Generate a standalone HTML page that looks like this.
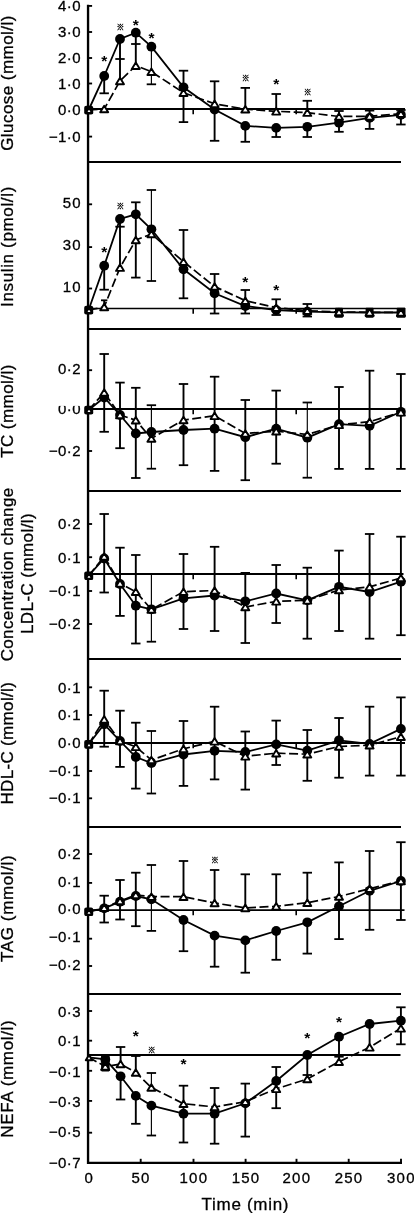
<!DOCTYPE html>
<html><head><meta charset="utf-8"><title>Figure</title>
<style>
html,body{margin:0;padding:0;background:#fff;}
body{width:414px;height:1213px;overflow:hidden;}
svg{display:block;will-change:transform;}
svg text{font-family:"Liberation Sans","Noto Sans CJK JP",sans-serif;fill:#000;}
.tk{font-size:15px;letter-spacing:0.4px;stroke:#000;stroke-width:0.3px;}
.ttl{font-size:17px;letter-spacing:0.45px;stroke:#000;stroke-width:0.3px;}
.st{font-size:15.5px;font-weight:bold;}
.sx{font-size:7.8px;font-weight:bold;stroke:#000;stroke-width:0.3px;}
</style></head><body>
<svg width="414" height="1213" viewBox="0 0 414 1213">
<rect width="414" height="1213" fill="#fff"/>
<g stroke="#000" stroke-width="2.0" fill="none">
<line x1="88" y1="161.9" x2="401" y2="161.9"/>
<line x1="88" y1="328.9" x2="401" y2="328.9"/>
<line x1="88" y1="491.0" x2="401" y2="491.0"/>
<line x1="88" y1="659.0" x2="401" y2="659.0"/>
<line x1="88" y1="826.9" x2="401" y2="826.9"/>
<line x1="88" y1="994.0" x2="401" y2="994.0"/>
<line x1="88" y1="1162.9" x2="402" y2="1162.9" stroke-width="2.1"/>
</g>
<g stroke="#000" fill="none">
<line x1="88" y1="108.9" x2="405" y2="108.9" stroke-width="2.0"/>
<line x1="193.2" y1="108.9" x2="193.2" y2="114.2" stroke-width="1.6"/>
<line x1="296.2" y1="108.9" x2="296.2" y2="114.2" stroke-width="1.6"/>
<line x1="88" y1="308.5" x2="405" y2="308.5" stroke-width="1.3"/>
<line x1="193.2" y1="308.5" x2="193.2" y2="313.8" stroke-width="1.6"/>
<line x1="296.2" y1="308.5" x2="296.2" y2="313.8" stroke-width="1.6"/>
<line x1="88" y1="409.0" x2="401" y2="409.0" stroke-width="2.0"/>
<line x1="193.2" y1="409.0" x2="193.2" y2="414.3" stroke-width="1.6"/>
<line x1="296.2" y1="409.0" x2="296.2" y2="414.3" stroke-width="1.6"/>
<line x1="88" y1="573.9" x2="403.5" y2="573.9" stroke-width="2.05"/>
<line x1="193.2" y1="573.9" x2="193.2" y2="579.2" stroke-width="1.6"/>
<line x1="296.2" y1="573.9" x2="296.2" y2="579.2" stroke-width="1.6"/>
<line x1="88" y1="743.0" x2="405" y2="743.0" stroke-width="1.95"/>
<line x1="193.2" y1="743.0" x2="193.2" y2="748.3" stroke-width="1.6"/>
<line x1="296.2" y1="743.0" x2="296.2" y2="748.3" stroke-width="1.6"/>
<line x1="88" y1="910.0" x2="404.5" y2="910.0" stroke-width="1.75"/>
<line x1="193.2" y1="910.0" x2="193.2" y2="915.3" stroke-width="1.6"/>
<line x1="296.2" y1="910.0" x2="296.2" y2="915.3" stroke-width="1.6"/>
<line x1="88" y1="1054.9" x2="400.5" y2="1054.9" stroke-width="2.05"/>
</g>
<line x1="88.05" y1="4.8" x2="88.05" y2="1163.9" stroke="#000" stroke-width="2.35"/>
<g stroke="#000" stroke-width="1.85">
<line x1="88" y1="5.9" x2="92.1" y2="5.9"/>
<line x1="88" y1="32" x2="92.1" y2="32"/>
<line x1="88" y1="58.0" x2="92.1" y2="58.0"/>
<line x1="88" y1="83.5" x2="92.1" y2="83.5"/>
<line x1="88" y1="109.3" x2="92.1" y2="109.3"/>
<line x1="88" y1="136.6" x2="92.1" y2="136.6"/>
<line x1="88" y1="204.3" x2="92.1" y2="204.3"/>
<line x1="88" y1="247.1" x2="92.1" y2="247.1"/>
<line x1="88" y1="288.5" x2="92.1" y2="288.5"/>
<line x1="88" y1="370.2" x2="92.1" y2="370.2"/>
<line x1="88" y1="409.3" x2="92.1" y2="409.3"/>
<line x1="88" y1="451" x2="92.1" y2="451"/>
<line x1="88" y1="524" x2="92.1" y2="524"/>
<line x1="88" y1="557.2" x2="92.1" y2="557.2"/>
<line x1="88" y1="591" x2="92.1" y2="591"/>
<line x1="88" y1="624" x2="92.1" y2="624"/>
<line x1="88" y1="687.3" x2="92.1" y2="687.3"/>
<line x1="88" y1="715" x2="92.1" y2="715"/>
<line x1="88" y1="743.3" x2="92.1" y2="743.3"/>
<line x1="88" y1="771" x2="92.1" y2="771"/>
<line x1="88" y1="798.3" x2="92.1" y2="798.3"/>
<line x1="88" y1="854" x2="92.1" y2="854"/>
<line x1="88" y1="882.9" x2="92.1" y2="882.9"/>
<line x1="88" y1="910" x2="92.1" y2="910"/>
<line x1="88" y1="938.7" x2="92.1" y2="938.7"/>
<line x1="88" y1="966.0" x2="92.1" y2="966.0"/>
<line x1="88" y1="1011" x2="92.1" y2="1011"/>
<line x1="88" y1="1040.7" x2="92.1" y2="1040.7"/>
<line x1="88" y1="1070.8" x2="92.1" y2="1070.8"/>
<line x1="88" y1="1100.9" x2="92.1" y2="1100.9"/>
<line x1="88" y1="1132.7" x2="92.1" y2="1132.7"/>
<line x1="140.7" y1="1163.9" x2="140.7" y2="1158.8" stroke-width="1.9"/>
<line x1="193.5" y1="1163.9" x2="193.5" y2="1158.8" stroke-width="1.9"/>
<line x1="245.6" y1="1163.9" x2="245.6" y2="1158.8" stroke-width="1.9"/>
<line x1="296.5" y1="1163.9" x2="296.5" y2="1158.8" stroke-width="1.9"/>
<line x1="348.7" y1="1163.9" x2="348.7" y2="1158.8" stroke-width="1.9"/>
<line x1="401.0" y1="1163.9" x2="401.0" y2="1158.8" stroke-width="1.9"/>
</g>
<g stroke="#000" fill="none">
<line x1="104.2" y1="76" x2="104.2" y2="93.3" stroke-width="1.9"/><line x1="99.5" y1="93.3" x2="108.9" y2="93.3" stroke-width="1.8"/>
<line x1="120.0" y1="39" x2="120.0" y2="81" stroke-width="1.9"/><line x1="115.3" y1="59" x2="124.7" y2="59" stroke-width="1.8"/>
<line x1="135.8" y1="32.7" x2="135.8" y2="66.7" stroke-width="1.9"/><line x1="131.1" y1="44" x2="140.5" y2="44" stroke-width="1.8"/>
<line x1="151.4" y1="46.7" x2="151.4" y2="84.3" stroke-width="1.15"/><line x1="146.7" y1="84.3" x2="156.1" y2="84.3" stroke-width="1.8"/>
<line x1="183.5" y1="70.7" x2="183.5" y2="122.1" stroke-width="1.9"/><line x1="178.8" y1="70.7" x2="188.2" y2="70.7" stroke-width="1.8"/><line x1="178.8" y1="122.1" x2="188.2" y2="122.1" stroke-width="1.8"/>
<line x1="214.6" y1="81.3" x2="214.6" y2="140.8" stroke-width="1.9"/><line x1="209.9" y1="81.3" x2="219.3" y2="81.3" stroke-width="1.8"/><line x1="209.9" y1="140.8" x2="219.3" y2="140.8" stroke-width="1.8"/>
<line x1="245.3" y1="87.9" x2="245.3" y2="109.2" stroke-width="1.9"/><line x1="245.3" y1="125.6" x2="245.3" y2="141.8" stroke-width="1.9"/><line x1="240.6" y1="87.9" x2="250.0" y2="87.9" stroke-width="1.8"/><line x1="240.6" y1="141.8" x2="250.0" y2="141.8" stroke-width="1.8"/>
<line x1="276.2" y1="94" x2="276.2" y2="111.3" stroke-width="1.9"/><line x1="276.2" y1="127.7" x2="276.2" y2="137" stroke-width="1.9"/><line x1="271.5" y1="94" x2="280.9" y2="94" stroke-width="1.8"/><line x1="271.5" y1="137" x2="280.9" y2="137" stroke-width="1.8"/>
<line x1="307.3" y1="100.8" x2="307.3" y2="112.6" stroke-width="1.9"/><line x1="307.3" y1="126.6" x2="307.3" y2="137" stroke-width="1.9"/><line x1="302.6" y1="100.8" x2="312.0" y2="100.8" stroke-width="1.8"/><line x1="302.6" y1="137" x2="312.0" y2="137" stroke-width="1.8"/>
<line x1="339.0" y1="111" x2="339.0" y2="131.8" stroke-width="1.9"/><line x1="334.3" y1="111" x2="343.7" y2="111" stroke-width="1.8"/><line x1="334.3" y1="131.8" x2="343.7" y2="131.8" stroke-width="1.8"/>
<line x1="369.6" y1="110.6" x2="369.6" y2="128.9" stroke-width="1.9"/><line x1="364.9" y1="110.6" x2="374.3" y2="110.6" stroke-width="1.8"/><line x1="364.9" y1="128.9" x2="374.3" y2="128.9" stroke-width="1.8"/>
<line x1="400.9" y1="110" x2="400.9" y2="124.5" stroke-width="1.9"/><line x1="396.2" y1="110" x2="405.6" y2="110" stroke-width="1.8"/><line x1="396.2" y1="124.5" x2="405.6" y2="124.5" stroke-width="1.8"/>
</g>
<polyline points="88.6,110 104.2,109 120.0,81 135.8,65.7 151.4,71.7 183.5,92.7 214.6,103.8 245.3,109.2 276.2,111.3 307.3,112.6 339.0,116.5 369.6,116.3 400.9,113.7" fill="none" stroke="#000" stroke-width="1.7" stroke-dasharray="9 3.5"/>
<polyline points="88.6,110 104.2,76 120.0,39 135.8,32.7 151.4,46.7 183.5,87.3 214.6,109.5 245.3,125.9 276.2,127.9 307.3,126.8 339.0,122.7 369.6,117.9 400.9,114.8" fill="none" stroke="#000" stroke-width="1.8"/>
<g fill="#000"><rect x="84.2" y="105.7" width="9.0" height="8.7" rx="2"/><circle cx="104.2" cy="76" r="4.9"/><circle cx="120.0" cy="39" r="4.9"/><circle cx="135.8" cy="32.7" r="4.9"/><circle cx="151.4" cy="46.7" r="4.9"/><circle cx="183.5" cy="87.3" r="4.9"/><circle cx="214.6" cy="109.5" r="4.9"/><circle cx="245.3" cy="125.9" r="4.9"/><circle cx="276.2" cy="127.9" r="4.9"/><circle cx="307.3" cy="126.8" r="4.9"/><circle cx="339.0" cy="122.7" r="4.9"/><circle cx="369.6" cy="117.9" r="4.9"/><circle cx="400.9" cy="114.8" r="4.9"/></g>
<g fill="#fff" stroke="#000" stroke-width="1.9" stroke-linejoin="round"><path d="M89.0 107.6L92.2 113.0H85.8Z" stroke-width="2.0"/><path d="M104.2 105.7L108.2 112.3H100.2Z"/><path d="M120.0 77.7L124.0 84.3H116.0Z"/><path d="M135.8 62.4L139.8 69.0H131.8Z"/><path d="M151.4 68.4L155.4 75.0H147.4Z"/><path d="M183.5 89.4L187.5 96.0H179.5Z"/><path d="M214.6 100.5L218.6 107.1H210.6Z"/><path d="M245.3 105.9L249.3 112.5H241.3Z"/><path d="M276.2 108.0L280.2 114.6H272.2Z"/><path d="M307.3 109.3L311.3 115.9H303.3Z"/><path d="M339.0 113.2L343.0 119.8H335.0Z"/><path d="M369.6 113.0L373.6 119.6H365.6Z"/><path d="M400.9 110.4L404.9 117.0H396.9Z"/></g>
<text class="st" x="104.2" y="65.8" text-anchor="middle">*</text><text class="sx" x="120.3" y="30.0" text-anchor="middle">※</text><text class="st" x="135.8" y="30.1" text-anchor="middle">*</text><text class="st" x="151.4" y="42.8" text-anchor="middle">*</text><text class="sx" x="245.6" y="80.9" text-anchor="middle">※</text><text class="st" x="276.2" y="89.1" text-anchor="middle">*</text><text class="sx" x="307.6" y="95.1" text-anchor="middle">※</text>
<g stroke="#000" fill="none">
<line x1="104.2" y1="265.7" x2="104.2" y2="289.7" stroke-width="1.9"/><line x1="99.5" y1="289.7" x2="108.9" y2="289.7" stroke-width="1.8"/>
<line x1="104.2" y1="300.3" x2="104.2" y2="305" stroke-width="1.9"/><line x1="101.0" y1="300.3" x2="107.4" y2="300.3" stroke-width="1.8"/>
<line x1="120.0" y1="219" x2="120.0" y2="267.3" stroke-width="1.9"/><line x1="115.3" y1="226.7" x2="124.7" y2="226.7" stroke-width="1.8"/>
<line x1="135.8" y1="202.3" x2="135.8" y2="277.6" stroke-width="1.9"/><line x1="131.1" y1="202.3" x2="140.5" y2="202.3" stroke-width="1.8"/><line x1="131.1" y1="277.6" x2="140.5" y2="277.6" stroke-width="1.8"/>
<line x1="151.4" y1="190" x2="151.4" y2="281" stroke-width="1.15"/><line x1="146.7" y1="190" x2="156.1" y2="190" stroke-width="1.8"/><line x1="146.7" y1="281" x2="156.1" y2="281" stroke-width="1.8"/>
<line x1="183.5" y1="230" x2="183.5" y2="298.3" stroke-width="1.9"/><line x1="178.8" y1="230" x2="188.2" y2="230" stroke-width="1.8"/><line x1="178.8" y1="298.3" x2="188.2" y2="298.3" stroke-width="1.8"/>
<line x1="214.6" y1="274" x2="214.6" y2="313.5" stroke-width="1.9"/><line x1="209.9" y1="274" x2="219.3" y2="274" stroke-width="1.8"/><line x1="209.9" y1="313.5" x2="219.3" y2="313.5" stroke-width="1.8"/>
<line x1="245.3" y1="290" x2="245.3" y2="313.5" stroke-width="1.9"/><line x1="240.6" y1="290" x2="250.0" y2="290" stroke-width="1.8"/><line x1="240.6" y1="313.5" x2="250.0" y2="313.5" stroke-width="1.8"/>
<line x1="276.2" y1="299.3" x2="276.2" y2="315" stroke-width="1.9"/><line x1="271.5" y1="299.3" x2="280.9" y2="299.3" stroke-width="1.8"/><line x1="271.5" y1="315" x2="280.9" y2="315" stroke-width="1.8"/>
<line x1="307.3" y1="304" x2="307.3" y2="316.5" stroke-width="1.9"/><line x1="302.6" y1="304" x2="312.0" y2="304" stroke-width="1.8"/><line x1="302.6" y1="316.5" x2="312.0" y2="316.5" stroke-width="1.8"/>
<line x1="339.0" y1="308" x2="339.0" y2="316" stroke-width="1.9"/><line x1="334.3" y1="316" x2="343.7" y2="316" stroke-width="1.8"/>
<line x1="369.6" y1="308" x2="369.6" y2="316" stroke-width="1.9"/><line x1="364.9" y1="316" x2="374.3" y2="316" stroke-width="1.8"/>
<line x1="400.9" y1="308" x2="400.9" y2="316" stroke-width="1.9"/><line x1="396.2" y1="316" x2="405.6" y2="316" stroke-width="1.8"/>
</g>
<polyline points="88.6,310 104.2,307 120.0,267.6 135.8,240 151.4,234 183.5,261.7 214.6,286.5 245.3,300.7 276.2,307.7 307.3,310.7 339.0,312 369.6,312.3 400.9,312.5" fill="none" stroke="#000" stroke-width="1.7" stroke-dasharray="9 3.5"/>
<polyline points="88.6,310 104.2,265.7 120.0,219 135.8,214.3 151.4,229.3 183.5,269.3 214.6,293.3 245.3,306 276.2,310 307.3,311.7 339.0,312.3 369.6,312.5 400.9,312.5" fill="none" stroke="#000" stroke-width="1.8"/>
<g fill="#000"><rect x="335.0" y="307.8" width="8.0" height="10.0" rx="0.8"/><rect x="365.6" y="307.8" width="8.0" height="10.0" rx="0.8"/><rect x="396.7" y="307.8" width="8.8" height="10.0" rx="0.8"/><rect x="84.2" y="305.7" width="9.0" height="8.7" rx="2"/><circle cx="104.2" cy="265.7" r="4.9"/><circle cx="120.0" cy="219" r="4.9"/><circle cx="135.8" cy="214.3" r="4.9"/><circle cx="151.4" cy="229.3" r="4.9"/><circle cx="183.5" cy="269.3" r="4.9"/><circle cx="214.6" cy="293.3" r="4.9"/><circle cx="245.3" cy="306" r="4.9"/><circle cx="276.2" cy="310" r="4.9"/><circle cx="307.3" cy="311.7" r="4.9"/></g>
<g fill="#fff" stroke="#000" stroke-width="1.9" stroke-linejoin="round"><path d="M89.0 307.6L92.2 313.0H85.8Z" stroke-width="2.0"/><path d="M104.2 303.7L108.2 310.3H100.2Z"/><path d="M120.0 264.3L124.0 270.9H116.0Z"/><path d="M135.8 236.7L139.8 243.3H131.8Z"/><path d="M151.4 230.7L155.4 237.3H147.4Z"/><path d="M183.5 258.4L187.5 265.0H179.5Z"/><path d="M214.6 283.2L218.6 289.8H210.6Z"/><path d="M245.3 297.4L249.3 304.0H241.3Z"/><path d="M276.2 304.4L280.2 311.0H272.2Z"/><path d="M307.3 307.4L311.3 314.0H303.3Z"/><path d="M339.0 308.7L343.0 315.3H335.0Z"/><path d="M369.6 309.0L373.6 315.6H365.6Z"/><path d="M400.9 309.2L404.9 315.8H396.9Z"/></g>
<text class="st" x="104.2" y="257.1" text-anchor="middle">*</text><text class="sx" x="120.3" y="208.8" text-anchor="middle">※</text><text class="st" x="245.3" y="287.1" text-anchor="middle">*</text><text class="st" x="276.2" y="294.8" text-anchor="middle">*</text>
<g stroke="#000" fill="none">
<line x1="104.2" y1="354" x2="104.2" y2="431.8" stroke-width="1.9"/><line x1="99.5" y1="354" x2="108.9" y2="354" stroke-width="1.8"/><line x1="99.5" y1="431.8" x2="108.9" y2="431.8" stroke-width="1.8"/>
<line x1="120.0" y1="382.6" x2="120.0" y2="448.2" stroke-width="1.9"/><line x1="115.3" y1="382.6" x2="124.7" y2="382.6" stroke-width="1.8"/><line x1="115.3" y1="448.2" x2="124.7" y2="448.2" stroke-width="1.8"/>
<line x1="135.8" y1="387.8" x2="135.8" y2="478" stroke-width="1.9"/><line x1="131.1" y1="387.8" x2="140.5" y2="387.8" stroke-width="1.8"/><line x1="131.1" y1="478" x2="140.5" y2="478" stroke-width="1.8"/>
<line x1="151.4" y1="405.2" x2="151.4" y2="468.7" stroke-width="1.15"/><line x1="146.7" y1="405.2" x2="156.1" y2="405.2" stroke-width="1.8"/><line x1="146.7" y1="468.7" x2="156.1" y2="468.7" stroke-width="1.8"/>
<line x1="183.5" y1="384" x2="183.5" y2="465.2" stroke-width="1.9"/><line x1="178.8" y1="384" x2="188.2" y2="384" stroke-width="1.8"/><line x1="178.8" y1="465.2" x2="188.2" y2="465.2" stroke-width="1.8"/>
<line x1="214.6" y1="376.7" x2="214.6" y2="470.9" stroke-width="1.9"/><line x1="209.9" y1="376.7" x2="219.3" y2="376.7" stroke-width="1.8"/><line x1="209.9" y1="470.9" x2="219.3" y2="470.9" stroke-width="1.8"/>
<line x1="245.3" y1="400" x2="245.3" y2="480.2" stroke-width="1.9"/><line x1="240.6" y1="400" x2="250.0" y2="400" stroke-width="1.8"/><line x1="240.6" y1="480.2" x2="250.0" y2="480.2" stroke-width="1.8"/>
<line x1="276.2" y1="390.6" x2="276.2" y2="463.7" stroke-width="1.9"/><line x1="271.5" y1="390.6" x2="280.9" y2="390.6" stroke-width="1.8"/><line x1="271.5" y1="463.7" x2="280.9" y2="463.7" stroke-width="1.8"/>
<line x1="307.3" y1="402.5" x2="307.3" y2="477.7" stroke-width="1.15"/><line x1="302.6" y1="402.5" x2="312.0" y2="402.5" stroke-width="1.8"/><line x1="302.6" y1="477.7" x2="312.0" y2="477.7" stroke-width="1.8"/>
<line x1="339.0" y1="387" x2="339.0" y2="468.9" stroke-width="1.9"/><line x1="334.3" y1="387" x2="343.7" y2="387" stroke-width="1.8"/><line x1="334.3" y1="468.9" x2="343.7" y2="468.9" stroke-width="1.8"/>
<line x1="369.6" y1="370.7" x2="369.6" y2="468.9" stroke-width="1.9"/><line x1="364.9" y1="370.7" x2="374.3" y2="370.7" stroke-width="1.8"/><line x1="364.9" y1="468.9" x2="374.3" y2="468.9" stroke-width="1.8"/>
<line x1="400.9" y1="374" x2="400.9" y2="468.9" stroke-width="1.9"/><line x1="396.2" y1="374" x2="405.6" y2="374" stroke-width="1.8"/><line x1="396.2" y1="468.9" x2="405.6" y2="468.9" stroke-width="1.8"/>
</g>
<polyline points="88.6,410 104.2,392.5 120.0,415 135.8,420.2 151.4,438.5 183.5,420 214.6,415.8 245.3,433.5 276.2,431.2 307.3,434.5 339.0,424.8 369.6,421.7 400.9,412.3" fill="none" stroke="#000" stroke-width="1.7" stroke-dasharray="9 3.5"/>
<polyline points="88.6,410 104.2,397.5 120.0,415 135.8,433.5 151.4,432 183.5,430 214.6,428.7 245.3,437.2 276.2,428.6 307.3,437.7 339.0,424.2 369.6,425.8 400.9,411.8" fill="none" stroke="#000" stroke-width="1.8"/>
<g fill="#000"><rect x="84.2" y="405.7" width="9.0" height="8.7" rx="2"/><circle cx="104.2" cy="397.5" r="4.9"/><circle cx="120.0" cy="415" r="4.9"/><circle cx="135.8" cy="433.5" r="4.9"/><circle cx="151.4" cy="432" r="4.9"/><circle cx="183.5" cy="430" r="4.9"/><circle cx="214.6" cy="428.7" r="4.9"/><circle cx="245.3" cy="437.2" r="4.9"/><circle cx="276.2" cy="428.6" r="4.9"/><circle cx="307.3" cy="437.7" r="4.9"/><circle cx="339.0" cy="424.2" r="4.9"/><circle cx="369.6" cy="425.8" r="4.9"/><circle cx="400.9" cy="411.8" r="4.9"/></g>
<g fill="#fff" stroke="#000" stroke-width="1.9" stroke-linejoin="round"><path d="M89.0 407.6L92.2 413.0H85.8Z" stroke-width="2.0"/><path d="M104.2 389.2L108.2 395.8H100.2Z"/><path d="M120.0 411.7L124.0 418.3H116.0Z"/><path d="M135.8 416.9L139.8 423.5H131.8Z"/><path d="M151.4 435.2L155.4 441.8H147.4Z"/><path d="M183.5 416.7L187.5 423.3H179.5Z"/><path d="M214.6 412.5L218.6 419.1H210.6Z"/><path d="M245.3 430.2L249.3 436.8H241.3Z"/><path d="M276.2 427.9L280.2 434.5H272.2Z"/><path d="M307.3 431.2L311.3 437.8H303.3Z"/><path d="M339.0 421.5L343.0 428.1H335.0Z"/><path d="M369.6 418.4L373.6 425.0H365.6Z"/><path d="M400.9 409.0L404.9 415.6H396.9Z"/></g>

<g stroke="#000" fill="none">
<line x1="104.2" y1="514" x2="104.2" y2="592.5" stroke-width="1.9"/><line x1="99.5" y1="514" x2="108.9" y2="514" stroke-width="1.8"/><line x1="99.5" y1="592.5" x2="108.9" y2="592.5" stroke-width="1.8"/>
<line x1="120.0" y1="547.7" x2="120.0" y2="615.9" stroke-width="1.9"/><line x1="115.3" y1="547.7" x2="124.7" y2="547.7" stroke-width="1.8"/><line x1="115.3" y1="615.9" x2="124.7" y2="615.9" stroke-width="1.8"/>
<line x1="135.8" y1="555" x2="135.8" y2="643.5" stroke-width="1.9"/><line x1="131.1" y1="555" x2="140.5" y2="555" stroke-width="1.8"/><line x1="131.1" y1="643.5" x2="140.5" y2="643.5" stroke-width="1.8"/>
<line x1="151.4" y1="574.3" x2="151.4" y2="641.7" stroke-width="1.15"/><line x1="146.7" y1="641.7" x2="156.1" y2="641.7" stroke-width="1.8"/>
<line x1="183.5" y1="554" x2="183.5" y2="629" stroke-width="1.9"/><line x1="178.8" y1="554" x2="188.2" y2="554" stroke-width="1.8"/><line x1="178.8" y1="629" x2="188.2" y2="629" stroke-width="1.8"/>
<line x1="214.6" y1="546.8" x2="214.6" y2="631" stroke-width="1.9"/><line x1="209.9" y1="546.8" x2="219.3" y2="546.8" stroke-width="1.8"/><line x1="209.9" y1="631" x2="219.3" y2="631" stroke-width="1.8"/>
<line x1="245.3" y1="572.9" x2="245.3" y2="643" stroke-width="1.9"/><line x1="240.6" y1="572.9" x2="250.0" y2="572.9" stroke-width="1.8"/><line x1="240.6" y1="643" x2="250.0" y2="643" stroke-width="1.8"/>
<line x1="276.2" y1="565" x2="276.2" y2="623" stroke-width="1.9"/><line x1="271.5" y1="565" x2="280.9" y2="565" stroke-width="1.8"/><line x1="271.5" y1="623" x2="280.9" y2="623" stroke-width="1.8"/>
<line x1="307.3" y1="567.7" x2="307.3" y2="638.7" stroke-width="1.9"/><line x1="302.6" y1="567.7" x2="312.0" y2="567.7" stroke-width="1.8"/><line x1="302.6" y1="638.7" x2="312.0" y2="638.7" stroke-width="1.8"/>
<line x1="339.0" y1="550.6" x2="339.0" y2="631" stroke-width="1.9"/><line x1="334.3" y1="550.6" x2="343.7" y2="550.6" stroke-width="1.8"/><line x1="334.3" y1="631" x2="343.7" y2="631" stroke-width="1.8"/>
<line x1="369.6" y1="534" x2="369.6" y2="638.7" stroke-width="1.9"/><line x1="364.9" y1="534" x2="374.3" y2="534" stroke-width="1.8"/><line x1="364.9" y1="638.7" x2="374.3" y2="638.7" stroke-width="1.8"/>
<line x1="400.9" y1="536.7" x2="400.9" y2="635.2" stroke-width="1.9"/><line x1="396.2" y1="536.7" x2="405.6" y2="536.7" stroke-width="1.8"/><line x1="396.2" y1="635.2" x2="405.6" y2="635.2" stroke-width="1.8"/>
</g>
<polyline points="88.6,575.7 104.2,556.5 120.0,583.3 135.8,591.7 151.4,609.5 183.5,591.7 214.6,590.5 245.3,607 276.2,601.3 307.3,600.3 339.0,590 369.6,586.8 400.9,578" fill="none" stroke="#000" stroke-width="1.7" stroke-dasharray="9 3.5"/>
<polyline points="88.6,575.7 104.2,558.5 120.0,584 135.8,605.7 151.4,609.3 183.5,598.3 214.6,595.5 245.3,601.3 276.2,593.5 307.3,600.3 339.0,586.8 369.6,592 400.9,581.7" fill="none" stroke="#000" stroke-width="1.8"/>
<g fill="#000"><rect x="84.2" y="571.4" width="9.0" height="8.7" rx="2"/><circle cx="104.2" cy="558.5" r="4.9"/><circle cx="120.0" cy="584" r="4.9"/><circle cx="135.8" cy="605.7" r="4.9"/><circle cx="151.4" cy="609.3" r="4.9"/><circle cx="183.5" cy="598.3" r="4.9"/><circle cx="214.6" cy="595.5" r="4.9"/><circle cx="245.3" cy="601.3" r="4.9"/><circle cx="276.2" cy="593.5" r="4.9"/><circle cx="307.3" cy="600.3" r="4.9"/><circle cx="339.0" cy="586.8" r="4.9"/><circle cx="369.6" cy="592" r="4.9"/><circle cx="400.9" cy="581.7" r="4.9"/></g>
<g fill="#fff" stroke="#000" stroke-width="1.9" stroke-linejoin="round"><path d="M89.0 573.3L92.2 578.7H85.8Z" stroke-width="2.0"/><path d="M104.2 553.2L108.2 559.8H100.2Z"/><path d="M120.0 580.0L124.0 586.6H116.0Z"/><path d="M135.8 588.4L139.8 595.0H131.8Z"/><path d="M151.4 606.2L155.4 612.8H147.4Z"/><path d="M183.5 588.4L187.5 595.0H179.5Z"/><path d="M214.6 587.2L218.6 593.8H210.6Z"/><path d="M245.3 603.7L249.3 610.3H241.3Z"/><path d="M276.2 598.0L280.2 604.6H272.2Z"/><path d="M307.3 597.0L311.3 603.6H303.3Z"/><path d="M339.0 586.7L343.0 593.3H335.0Z"/><path d="M369.6 583.5L373.6 590.1H365.6Z"/><path d="M400.9 574.7L404.9 581.3H396.9Z"/></g>

<g stroke="#000" fill="none">
<line x1="104.2" y1="690.7" x2="104.2" y2="746.7" stroke-width="1.9"/><line x1="99.5" y1="690.7" x2="108.9" y2="690.7" stroke-width="1.8"/><line x1="99.5" y1="746.7" x2="108.9" y2="746.7" stroke-width="1.8"/>
<line x1="120.0" y1="710.7" x2="120.0" y2="766.9" stroke-width="1.9"/><line x1="115.3" y1="710.7" x2="124.7" y2="710.7" stroke-width="1.8"/><line x1="115.3" y1="766.9" x2="124.7" y2="766.9" stroke-width="1.8"/>
<line x1="135.8" y1="722.7" x2="135.8" y2="788.6" stroke-width="1.9"/><line x1="131.1" y1="722.7" x2="140.5" y2="722.7" stroke-width="1.8"/><line x1="131.1" y1="788.6" x2="140.5" y2="788.6" stroke-width="1.8"/>
<line x1="151.4" y1="731" x2="151.4" y2="793.5" stroke-width="1.15"/><line x1="146.7" y1="731" x2="156.1" y2="731" stroke-width="1.8"/><line x1="146.7" y1="793.5" x2="156.1" y2="793.5" stroke-width="1.8"/>
<line x1="183.5" y1="721" x2="183.5" y2="785.9" stroke-width="1.9"/><line x1="178.8" y1="721" x2="188.2" y2="721" stroke-width="1.8"/><line x1="178.8" y1="785.9" x2="188.2" y2="785.9" stroke-width="1.8"/>
<line x1="214.6" y1="706.7" x2="214.6" y2="779.4" stroke-width="1.9"/><line x1="209.9" y1="706.7" x2="219.3" y2="706.7" stroke-width="1.8"/><line x1="209.9" y1="779.4" x2="219.3" y2="779.4" stroke-width="1.8"/>
<line x1="245.3" y1="731.5" x2="245.3" y2="789.6" stroke-width="1.9"/><line x1="240.6" y1="731.5" x2="250.0" y2="731.5" stroke-width="1.8"/><line x1="240.6" y1="789.6" x2="250.0" y2="789.6" stroke-width="1.8"/>
<line x1="276.2" y1="720.6" x2="276.2" y2="765" stroke-width="1.9"/><line x1="271.5" y1="720.6" x2="280.9" y2="720.6" stroke-width="1.8"/><line x1="271.5" y1="765" x2="280.9" y2="765" stroke-width="1.8"/>
<line x1="307.3" y1="730" x2="307.3" y2="780.8" stroke-width="1.9"/><line x1="302.6" y1="730" x2="312.0" y2="730" stroke-width="1.8"/><line x1="302.6" y1="780.8" x2="312.0" y2="780.8" stroke-width="1.8"/>
<line x1="339.0" y1="718" x2="339.0" y2="777.7" stroke-width="1.9"/><line x1="334.3" y1="718" x2="343.7" y2="718" stroke-width="1.8"/><line x1="334.3" y1="777.7" x2="343.7" y2="777.7" stroke-width="1.8"/>
<line x1="369.6" y1="706.7" x2="369.6" y2="775.6" stroke-width="1.9"/><line x1="364.9" y1="706.7" x2="374.3" y2="706.7" stroke-width="1.8"/><line x1="364.9" y1="775.6" x2="374.3" y2="775.6" stroke-width="1.8"/>
<line x1="400.9" y1="697.4" x2="400.9" y2="775.6" stroke-width="1.9"/><line x1="396.2" y1="697.4" x2="405.6" y2="697.4" stroke-width="1.8"/><line x1="396.2" y1="775.6" x2="405.6" y2="775.6" stroke-width="1.8"/>
</g>
<polyline points="88.6,744.3 104.2,719.4 120.0,741 135.8,746.8 151.4,760 183.5,748.8 214.6,741.3 245.3,756.3 276.2,753.2 307.3,754.2 339.0,746.5 369.6,745.2 400.9,736.7" fill="none" stroke="#000" stroke-width="1.7" stroke-dasharray="9 3.5"/>
<polyline points="88.6,744.3 104.2,724.3 120.0,741 135.8,757 151.4,763 183.5,754.5 214.6,750.8 245.3,752 276.2,744.4 307.3,750.6 339.0,740.3 369.6,743.9 400.9,728.9" fill="none" stroke="#000" stroke-width="1.8"/>
<g fill="#000"><rect x="84.2" y="740.0" width="9.0" height="8.7" rx="2"/><circle cx="104.2" cy="724.3" r="4.9"/><circle cx="120.0" cy="741" r="4.9"/><circle cx="135.8" cy="757" r="4.9"/><circle cx="151.4" cy="763" r="4.9"/><circle cx="183.5" cy="754.5" r="4.9"/><circle cx="214.6" cy="750.8" r="4.9"/><circle cx="245.3" cy="752" r="4.9"/><circle cx="276.2" cy="744.4" r="4.9"/><circle cx="307.3" cy="750.6" r="4.9"/><circle cx="339.0" cy="740.3" r="4.9"/><circle cx="369.6" cy="743.9" r="4.9"/><circle cx="400.9" cy="728.9" r="4.9"/></g>
<g fill="#fff" stroke="#000" stroke-width="1.9" stroke-linejoin="round"><path d="M89.0 741.9L92.2 747.3H85.8Z" stroke-width="2.0"/><path d="M104.2 716.1L108.2 722.7H100.2Z"/><path d="M120.0 737.7L124.0 744.3H116.0Z"/><path d="M135.8 743.5L139.8 750.1H131.8Z"/><path d="M151.4 756.7L155.4 763.3H147.4Z"/><path d="M183.5 745.5L187.5 752.1H179.5Z"/><path d="M214.6 738.0L218.6 744.6H210.6Z"/><path d="M245.3 753.0L249.3 759.6H241.3Z"/><path d="M276.2 749.9L280.2 756.5H272.2Z"/><path d="M307.3 750.9L311.3 757.5H303.3Z"/><path d="M339.0 743.2L343.0 749.8H335.0Z"/><path d="M369.6 741.9L373.6 748.5H365.6Z"/><path d="M400.9 733.4L404.9 740.0H396.9Z"/></g>

<g stroke="#000" fill="none">
<line x1="104.2" y1="895.7" x2="104.2" y2="922.5" stroke-width="1.9"/><line x1="99.5" y1="895.7" x2="108.9" y2="895.7" stroke-width="1.8"/><line x1="99.5" y1="922.5" x2="108.9" y2="922.5" stroke-width="1.8"/>
<line x1="120.0" y1="880" x2="120.0" y2="919.5" stroke-width="1.9"/><line x1="115.3" y1="880" x2="124.7" y2="880" stroke-width="1.8"/><line x1="115.3" y1="919.5" x2="124.7" y2="919.5" stroke-width="1.8"/>
<line x1="135.8" y1="872.7" x2="135.8" y2="926.2" stroke-width="1.9"/><line x1="131.1" y1="872.7" x2="140.5" y2="872.7" stroke-width="1.8"/><line x1="131.1" y1="926.2" x2="140.5" y2="926.2" stroke-width="1.8"/>
<line x1="151.4" y1="865" x2="151.4" y2="930.9" stroke-width="1.15"/><line x1="146.7" y1="865" x2="156.1" y2="865" stroke-width="1.8"/><line x1="146.7" y1="930.9" x2="156.1" y2="930.9" stroke-width="1.8"/>
<line x1="183.5" y1="861" x2="183.5" y2="896.7" stroke-width="1.9"/><line x1="183.5" y1="920" x2="183.5" y2="951.2" stroke-width="1.9"/><line x1="178.8" y1="861" x2="188.2" y2="861" stroke-width="1.8"/><line x1="178.8" y1="951.2" x2="188.2" y2="951.2" stroke-width="1.8"/>
<line x1="214.6" y1="870" x2="214.6" y2="903" stroke-width="1.9"/><line x1="214.6" y1="935.6" x2="214.6" y2="966.7" stroke-width="1.9"/><line x1="209.9" y1="870" x2="219.3" y2="870" stroke-width="1.8"/><line x1="209.9" y1="966.7" x2="219.3" y2="966.7" stroke-width="1.8"/>
<line x1="245.3" y1="874.3" x2="245.3" y2="907.9" stroke-width="1.9"/><line x1="245.3" y1="940.4" x2="245.3" y2="972.7" stroke-width="1.9"/><line x1="240.6" y1="874.3" x2="250.0" y2="874.3" stroke-width="1.8"/><line x1="240.6" y1="972.7" x2="250.0" y2="972.7" stroke-width="1.8"/>
<line x1="276.2" y1="874.3" x2="276.2" y2="906.3" stroke-width="1.9"/><line x1="276.2" y1="931" x2="276.2" y2="959.8" stroke-width="1.9"/><line x1="271.5" y1="874.3" x2="280.9" y2="874.3" stroke-width="1.8"/><line x1="271.5" y1="959.8" x2="280.9" y2="959.8" stroke-width="1.8"/>
<line x1="307.3" y1="872.7" x2="307.3" y2="902.7" stroke-width="1.9"/><line x1="307.3" y1="922.3" x2="307.3" y2="953.6" stroke-width="1.9"/><line x1="302.6" y1="872.7" x2="312.0" y2="872.7" stroke-width="1.8"/><line x1="302.6" y1="953.6" x2="312.0" y2="953.6" stroke-width="1.8"/>
<line x1="339.0" y1="862.4" x2="339.0" y2="939.1" stroke-width="1.9"/><line x1="334.3" y1="862.4" x2="343.7" y2="862.4" stroke-width="1.8"/><line x1="334.3" y1="939.1" x2="343.7" y2="939.1" stroke-width="1.8"/>
<line x1="369.6" y1="851" x2="369.6" y2="929.8" stroke-width="1.9"/><line x1="364.9" y1="851" x2="374.3" y2="851" stroke-width="1.8"/><line x1="364.9" y1="929.8" x2="374.3" y2="929.8" stroke-width="1.8"/>
<line x1="400.9" y1="842.2" x2="400.9" y2="920" stroke-width="1.9"/><line x1="396.2" y1="842.2" x2="405.6" y2="842.2" stroke-width="1.8"/><line x1="396.2" y1="920" x2="405.6" y2="920" stroke-width="1.8"/>
</g>
<polyline points="88.6,911.7 104.2,907.7 120.0,901 135.8,895 151.4,896.7 183.5,896.7 214.6,903 245.3,907.9 276.2,906.3 307.3,902.7 339.0,896.5 369.6,888.7 400.9,881" fill="none" stroke="#000" stroke-width="1.7" stroke-dasharray="9 3.5"/>
<polyline points="88.6,911.7 104.2,908.3 120.0,901.7 135.8,896 151.4,899.3 183.5,920 214.6,935.6 245.3,940.4 276.2,931 307.3,922.3 339.0,906.3 369.6,890.8 400.9,881" fill="none" stroke="#000" stroke-width="1.8"/>
<g fill="#000"><rect x="84.2" y="907.4" width="9.0" height="8.7" rx="2"/><circle cx="104.2" cy="908.3" r="4.9"/><circle cx="120.0" cy="901.7" r="4.9"/><circle cx="135.8" cy="896" r="4.9"/><circle cx="151.4" cy="899.3" r="4.9"/><circle cx="183.5" cy="920" r="4.9"/><circle cx="214.6" cy="935.6" r="4.9"/><circle cx="245.3" cy="940.4" r="4.9"/><circle cx="276.2" cy="931" r="4.9"/><circle cx="307.3" cy="922.3" r="4.9"/><circle cx="339.0" cy="906.3" r="4.9"/><circle cx="369.6" cy="890.8" r="4.9"/><circle cx="400.9" cy="881" r="4.9"/></g>
<g fill="#fff" stroke="#000" stroke-width="1.9" stroke-linejoin="round"><path d="M89.0 909.3L92.2 914.7H85.8Z" stroke-width="2.0"/><path d="M104.2 904.4L108.2 911.0H100.2Z"/><path d="M120.0 897.7L124.0 904.3H116.0Z"/><path d="M135.8 891.7L139.8 898.3H131.8Z"/><path d="M151.4 893.4L155.4 900.0H147.4Z"/><path d="M183.5 893.4L187.5 900.0H179.5Z"/><path d="M214.6 899.7L218.6 906.3H210.6Z"/><path d="M245.3 904.6L249.3 911.2H241.3Z"/><path d="M276.2 903.0L280.2 909.6H272.2Z"/><path d="M307.3 899.4L311.3 906.0H303.3Z"/><path d="M339.0 893.2L343.0 899.8H335.0Z"/><path d="M369.6 885.4L373.6 892.0H365.6Z"/><path d="M400.9 877.7L404.9 884.3H396.9Z"/></g>
<text class="sx" x="214.9" y="862.9" text-anchor="middle">※</text>
<g stroke="#000" fill="none">
<line x1="105.3" y1="1059.7" x2="105.3" y2="1069.7" stroke-width="1.9"/><line x1="100.6" y1="1069.7" x2="110.0" y2="1069.7" stroke-width="1.8"/>
<line x1="120.6" y1="1047" x2="120.6" y2="1063.6" stroke-width="1.9"/><line x1="120.6" y1="1076.3" x2="120.6" y2="1099.5" stroke-width="1.9"/><line x1="115.9" y1="1047" x2="125.3" y2="1047" stroke-width="1.8"/><line x1="115.9" y1="1099.5" x2="125.3" y2="1099.5" stroke-width="1.8"/>
<line x1="135.8" y1="1056" x2="135.8" y2="1072.5" stroke-width="1.9"/><line x1="135.8" y1="1095.9" x2="135.8" y2="1123.8" stroke-width="1.9"/><line x1="131.1" y1="1056" x2="140.5" y2="1056" stroke-width="1.8"/><line x1="131.1" y1="1123.8" x2="140.5" y2="1123.8" stroke-width="1.8"/>
<line x1="151.4" y1="1073" x2="151.4" y2="1087.5" stroke-width="1.15"/><line x1="151.4" y1="1105.6" x2="151.4" y2="1135.5" stroke-width="1.15"/><line x1="146.7" y1="1073" x2="156.1" y2="1073" stroke-width="1.8"/><line x1="146.7" y1="1135.5" x2="156.1" y2="1135.5" stroke-width="1.8"/>
<line x1="183.5" y1="1085.7" x2="183.5" y2="1142.5" stroke-width="1.9"/><line x1="178.8" y1="1085.7" x2="188.2" y2="1085.7" stroke-width="1.8"/><line x1="178.8" y1="1142.5" x2="188.2" y2="1142.5" stroke-width="1.8"/>
<line x1="214.6" y1="1088" x2="214.6" y2="1143.7" stroke-width="1.9"/><line x1="209.9" y1="1088" x2="219.3" y2="1088" stroke-width="1.8"/><line x1="209.9" y1="1143.7" x2="219.3" y2="1143.7" stroke-width="1.8"/>
<line x1="245.3" y1="1083.6" x2="245.3" y2="1136.6" stroke-width="1.9"/><line x1="240.6" y1="1083.6" x2="250.0" y2="1083.6" stroke-width="1.8"/><line x1="240.6" y1="1136.6" x2="250.0" y2="1136.6" stroke-width="1.8"/>
<line x1="276.2" y1="1067" x2="276.2" y2="1108.2" stroke-width="1.9"/><line x1="271.5" y1="1067" x2="280.9" y2="1067" stroke-width="1.8"/><line x1="271.5" y1="1108.2" x2="280.9" y2="1108.2" stroke-width="1.8"/>
<line x1="307.3" y1="1055" x2="307.3" y2="1079" stroke-width="1.9"/><line x1="302.6" y1="1075" x2="312.0" y2="1075" stroke-width="1.8"/>
<line x1="339.0" y1="1036.7" x2="339.0" y2="1061.7" stroke-width="1.9"/><line x1="334.3" y1="1056.7" x2="343.7" y2="1056.7" stroke-width="1.8"/>
<line x1="369.6" y1="1024" x2="369.6" y2="1047.3" stroke-width="1.9"/>
<line x1="400.9" y1="1007.3" x2="400.9" y2="1044.3" stroke-width="1.9"/><line x1="396.2" y1="1007.3" x2="405.6" y2="1007.3" stroke-width="1.8"/><line x1="396.2" y1="1044.3" x2="405.6" y2="1044.3" stroke-width="1.8"/>
</g>
<polyline points="88.6,1057.3 105.3,1066.5 120.6,1064 135.8,1072.5 151.4,1087.5 183.5,1103.7 214.6,1107 245.3,1101.7 276.2,1088.8 307.3,1079 339.0,1061.7 369.6,1047.3 400.9,1028.3" fill="none" stroke="#000" stroke-width="1.7" stroke-dasharray="9 3.5"/>
<polyline points="88.6,1057.3 105.3,1059.4 120.6,1076.3 135.8,1095.9 151.4,1105.6 183.5,1113.7 214.6,1113.7 245.3,1103.3 276.2,1081 307.3,1055 339.0,1036.7 369.6,1024 400.9,1020.7" fill="none" stroke="#000" stroke-width="1.8"/>
<g fill="#000"><rect x="101.1" y="1055" width="8.5" height="16.4" rx="0.8"/><circle cx="105.3" cy="1059.4" r="4.9"/><circle cx="120.6" cy="1076.3" r="4.9"/><circle cx="135.8" cy="1095.9" r="4.9"/><circle cx="151.4" cy="1105.6" r="4.9"/><circle cx="183.5" cy="1113.7" r="4.9"/><circle cx="214.6" cy="1113.7" r="4.9"/><circle cx="245.3" cy="1103.3" r="4.9"/><circle cx="276.2" cy="1081" r="4.9"/><circle cx="307.3" cy="1055" r="4.9"/><circle cx="339.0" cy="1036.7" r="4.9"/><circle cx="369.6" cy="1024" r="4.9"/><circle cx="400.9" cy="1020.7" r="4.9"/></g>
<g fill="#fff" stroke="#000" stroke-width="1.9" stroke-linejoin="round"><path d="M89.0 1054.9L92.2 1060.3H85.8Z" stroke-width="2.0"/><path d="M105.3 1063.2L109.3 1069.8H101.3Z"/><path d="M120.6 1060.7L124.6 1067.3H116.6Z"/><path d="M135.8 1069.2L139.8 1075.8H131.8Z"/><path d="M151.4 1084.2L155.4 1090.8H147.4Z"/><path d="M183.5 1100.4L187.5 1107.0H179.5Z"/><path d="M214.6 1103.7L218.6 1110.3H210.6Z"/><path d="M245.3 1098.4L249.3 1105.0H241.3Z"/><path d="M276.2 1085.5L280.2 1092.1H272.2Z"/><path d="M307.3 1075.7L311.3 1082.3H303.3Z"/><path d="M339.0 1058.4L343.0 1065.0H335.0Z"/><path d="M369.6 1044.0L373.6 1050.6H365.6Z"/><path d="M400.9 1025.0L404.9 1031.6H396.9Z"/></g>
<text class="st" x="135.8" y="1041.1" text-anchor="middle">*</text><text class="sx" x="151.7" y="1052.8" text-anchor="middle">※</text><text class="st" x="183.5" y="1069.1" text-anchor="middle">*</text><text class="st" x="307.3" y="1043.1" text-anchor="middle">*</text><text class="st" x="339.0" y="1027.1" text-anchor="middle">*</text>
<g class="tk" text-anchor="end">
<text x="81.0" y="10.7">4·0</text>
<text x="81.0" y="36.7">3·0</text>
<text x="81.0" y="62.9">2·0</text>
<text x="81.0" y="88.5">1·0</text>
<text x="81.0" y="114.7">0·0</text>
<text x="81.0" y="141.7">−1·0</text>
<text x="81.8" y="208.3" style="letter-spacing:1.2px">50</text>
<text x="81.8" y="250.2" style="letter-spacing:1.2px">30</text>
<text x="81.8" y="291.8" style="letter-spacing:1.2px">10</text>
<text x="81.0" y="374.4">0·2</text>
<text x="81.0" y="414.3">0·0</text>
<text x="81.0" y="455.5">−0·2</text>
<text x="81.0" y="529.1">0·2</text>
<text x="81.0" y="562.9">0·1</text>
<text x="81.0" y="595.5">−0·1</text>
<text x="81.0" y="629.2">−0·2</text>
<text x="81.0" y="692.5">0·1</text>
<text x="81.0" y="719.9">0·1</text>
<text x="81.0" y="747.7">0·0</text>
<text x="81.0" y="775.5">−0·1</text>
<text x="81.0" y="803.3">−0·1</text>
<text x="81.0" y="859.3">0·2</text>
<text x="81.0" y="886.8">0·1</text>
<text x="81.0" y="914.3">0·0</text>
<text x="81.0" y="942.3">−0·1</text>
<text x="81.0" y="970.1">−0·2</text>
<text x="81.0" y="1017.1">0·3</text>
<text x="81.0" y="1046.1">0·1</text>
<text x="81.0" y="1077.0">−0·1</text>
<text x="81.0" y="1107.2">−0·3</text>
<text x="81.0" y="1137.4">−0·5</text>
<text x="81.0" y="1167.6">−0·7</text>
</g>
<g class="tk" text-anchor="middle" style="letter-spacing:1.2px">
<text x="89.2" y="1183.0">0</text>
<text x="141.1" y="1183.0">50</text>
<text x="193.9" y="1183.0">100</text>
<text x="246.0" y="1183.0">150</text>
<text x="296.9" y="1183.0">200</text>
<text x="349.1" y="1183.0">250</text>
<text x="401.4" y="1183.0">300</text>
</g>
<text class="ttl" x="245.4" y="1210.2" text-anchor="middle" style="letter-spacing:0.7px">Time (min)</text>
<rect x="55" y="401" width="28" height="4.9" fill="#fff"/>
<g class="ttl" text-anchor="middle">
<text transform="translate(13 83) rotate(-90)" style="letter-spacing:0.45px">Glucose (mmol/l)</text>
<text transform="translate(13 246.5) rotate(-90)" style="letter-spacing:0.65px">Insulin (pmol/l)</text>
<text transform="translate(13 411) rotate(-90)" style="letter-spacing:0.45px">TC (mmol/l)</text>
<text transform="translate(13 574.4) rotate(-90)" style="letter-spacing:0.38px">Concentration change</text>
<text transform="translate(33 573.5) rotate(-90)" style="letter-spacing:0.42px">LDL-C (mmol/l)</text>
<text transform="translate(13 743.2) rotate(-90)" style="letter-spacing:0.33px">HDL-C (mmol/l)</text>
<text transform="translate(13 908.4) rotate(-90)" style="letter-spacing:0.63px">TAG (mmol/l)</text>
<text transform="translate(13 1078.7) rotate(-90)" style="letter-spacing:0.65px">NEFA (mmol/l)</text>
</g>
</svg>
</body></html>
